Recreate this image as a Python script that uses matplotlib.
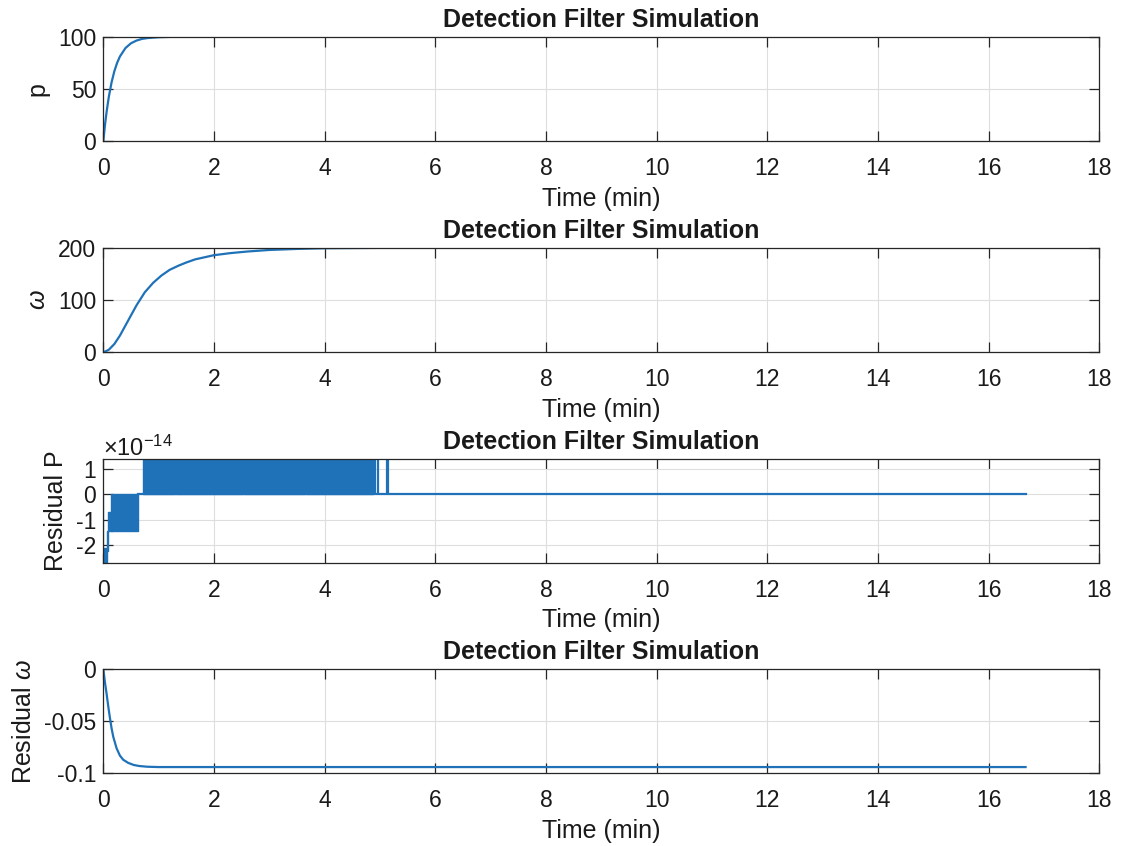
import numpy as np
import matplotlib.pyplot as plt

plt.rcParams['font.family'] = 'Liberation Sans'
plt.rcParams['mathtext.fontset'] = 'custom'
plt.rcParams['mathtext.rm'] = 'Liberation Sans'
plt.rcParams['mathtext.it'] = 'Liberation Sans:italic'
plt.rcParams['axes.unicode_minus'] = False

# --- data (time in minutes) ---
t_p = [0, 0.03, 0.06, 0.1, 0.15, 0.2, 0.25, 0.3, 0.4, 0.5, 0.6, 0.7, 0.8, 1.0, 1.2, 1.5, 2.0, 16.67]
p_vals = [0, 15.4, 28.3, 42.6, 56.5, 67.1, 75.1, 81.1, 89.2, 93.8, 96.4, 98.0, 98.8, 99.6, 99.9, 100, 100, 100]

t_w = [0, 0.1, 0.2, 0.3, 0.45, 0.6, 0.75, 0.9, 1.05, 1.2, 1.36, 1.5, 1.66, 2.0, 2.3, 2.6, 3.0, 3.5, 4.0, 5.0, 16.67]
w_vals = [0, 5, 16, 32, 61, 90, 115, 133, 147, 158, 166, 172, 178, 186, 190, 193, 196, 198, 199.3, 200, 200]

# residual P (units of 1e-14): dense oscillation bands + zero trace + isolated spikes
band_t0 = [0.0, 0.06, 0.08, 0.14, 0.71, 1.32, 2.54, 3.66]
band_t1 = [0.06, 0.09, 0.15, 0.62, 1.30, 2.52, 3.64, 4.87]
band_lo = [-2.7, -2.2, -1.42, -1.42, 0, 0, 0, 0]
band_hi = [-2.1, -1.42, -0.7, 0, 1.4, 1.4, 1.4, 1.4]
rp_trace_t = [0.62, 16.67]
rp_trace_v = [0, 0]
spike_t = [0.0, 4.92, 4.97, 5.12, 5.14]
spike_lo = [-2.7, 0, 0, 0, 0]
spike_hi = [0, 1.4, 1.4, 1.4, 1.4]

t_rw = [0, 0.03, 0.06, 0.09, 0.12, 0.15, 0.18, 0.24, 0.3, 0.36, 0.45, 0.55, 0.65, 0.8, 1.0, 16.67]
rw_vals = [0, -0.013, -0.024, -0.036, -0.047, -0.057, -0.065, -0.076, -0.083, -0.087, -0.090, -0.092, -0.093, -0.0937, -0.094, -0.094]

blue = '#1f72b8'
axc = '#262626'
txt = '#1a1a1a'
lw = 1.6

fig = plt.figure(figsize=(11.24, 8.46), dpi=100)
bottoms = [0.833, 0.5835, 0.3342, 0.0859]
axes = [fig.add_axes([0.0919, b, 0.886, 0.1235]) for b in bottoms]

for ax in axes:
    ax.set_xlim(0, 18)
    ax.set_xticks(np.arange(0, 19, 2))
    ax.grid(True, color='#dedede', linewidth=0.8)
    ax.set_axisbelow(True)
    ax.tick_params(direction='in', length=7, width=0.9, colors=axc, labelcolor=txt,
                   labelsize=16.5, top=True, right=True)
    ax.tick_params(axis='x', pad=11)
    ax.tick_params(axis='y', pad=5)
    for s in ax.spines.values():
        s.set_color(axc)
        s.set_linewidth(0.9)
    ax.set_title('Detection Filter Simulation', fontsize=18, fontweight='bold', pad=7, color=txt)
    ax.set_xlabel('Time (min)', fontsize=18, labelpad=5, color=txt)

ax1, ax2, ax3, ax4 = axes

ax1.plot(t_p, p_vals, color=blue, linewidth=lw)
ax1.set_ylim(0, 100)
ax1.set_yticks([0, 50, 100])
ax1.set_ylabel('p', fontsize=18, color=txt, labelpad=6)

ax2.plot(t_w, w_vals, color=blue, linewidth=lw)
ax2.set_ylim(0, 200)
ax2.set_yticks([0, 100, 200])
ax2.set_ylabel(r'$\omega$', fontsize=18, color=txt, labelpad=6)

for a, b, lo, hi in zip(band_t0, band_t1, band_lo, band_hi):
    ax3.fill_between([a, b], [lo, lo], [hi, hi], color=blue, linewidth=1)
ax3.plot(rp_trace_t, rp_trace_v, color=blue, linewidth=lw)
ax3.vlines(spike_t, spike_lo, spike_hi, color=blue, linewidth=lw)
ax3.set_ylim(-2.7, 1.4)
ax3.set_yticks([-2, -1, 0, 1])
ax3.set_ylabel('Residual P', fontsize=18, color=txt, labelpad=6)
ax3.text(0.0, 0.975, r'$\times\mathregular{10}^{\mathregular{-14}}$', transform=ax3.transAxes,
         fontsize=17, ha='left', va='bottom', color=txt)

ax4.plot(t_rw, rw_vals, color=blue, linewidth=lw)
ax4.set_ylim(-0.1, 0)
ax4.set_yticks([-0.1, -0.05, 0])
ax4.set_yticklabels(['-0.1', '-0.05', '0'])
ax4.set_ylabel(r'Residual $\omega$', fontsize=18, color=txt, labelpad=6)

fig.savefig('out.png', dpi=100)
